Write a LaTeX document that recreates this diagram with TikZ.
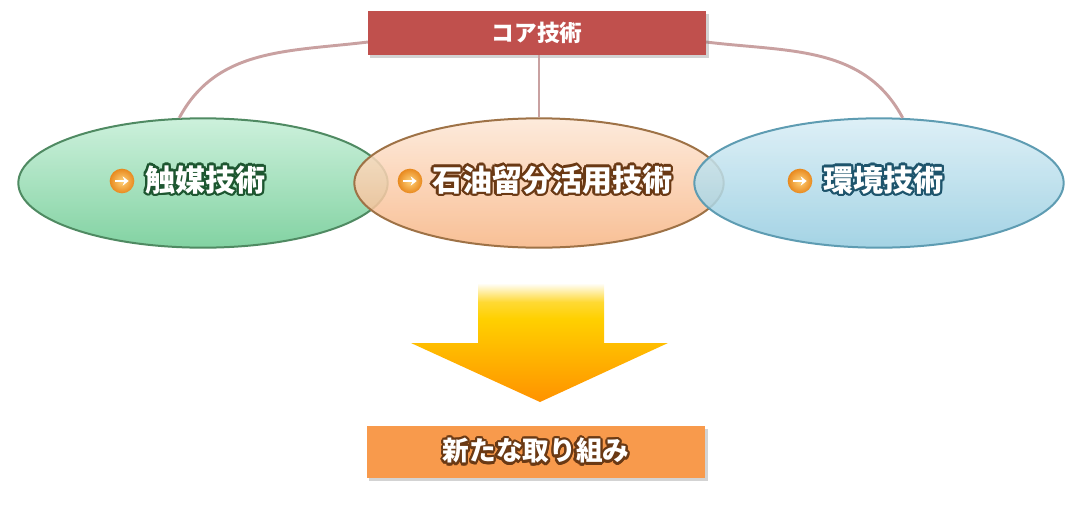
\documentclass[tikz,border=0pt]{standalone}
\usepackage{fontspec}
\usepackage{contour}
\usetikzlibrary{positioning,shapes.geometric,shadows,arrows.meta}
\newfontfamily\jpfont{Noto Sans CJK JP}
\contourlength{1.7pt}
\definecolor{coreRed}{HTML}{C0504D}
\definecolor{linkPink}{HTML}{C9A1A1}
\definecolor{newOrange}{HTML}{F89A4C}
\definecolor{catTop}{HTML}{C4EED6}
\definecolor{catBot}{HTML}{6ECB93}
\definecolor{catEdge}{HTML}{4F8A62}
\definecolor{catText}{HTML}{1D5630}
\definecolor{petTop}{HTML}{FDE7D6}
\definecolor{petBot}{HTML}{F7B584}
\definecolor{petEdge}{HTML}{9E7246}
\definecolor{petText}{HTML}{6A3914}
\definecolor{envTop}{HTML}{D8EDF5}
\definecolor{envBot}{HTML}{95CCE0}
\definecolor{envEdge}{HTML}{5E9CB2}
\definecolor{envText}{HTML}{1E546C}
\definecolor{arrYellow}{HTML}{FFD000}
\definecolor{arrOrange}{HTML}{FF9200}
\definecolor{bulLight}{HTML}{FFD27A}
\definecolor{bulDark}{HTML}{E8891E}
\pgfdeclareverticalshading{arrowfade}{100bp}{color(0bp)=(arrOrange); color(25bp)=(arrOrange);
  color(60bp)=(arrYellow); color(67bp)=(arrYellow!80!white); color(75bp)=(white); color(100bp)=(white)}
\tikzset{
  ell/.style={ellipse, minimum width=277pt, minimum height=97pt, line width=1.5pt, fill opacity=0.86},
  bar/.style={minimum width=254pt, inner sep=0pt, font=\jpfont\bfseries, text=white,
    drop shadow={opacity=0.35, shadow xshift=2pt, shadow yshift=-2pt}},
  bul/.style={circle, minimum size=18.5pt, inner sep=0pt, inner color=bulLight, outer color=bulDark},
  lbl/.style={font=\jpfont\bfseries\fontsize{22.5pt}{24pt}\selectfont, text=white, inner sep=0pt},
  link/.style={linkPink, line width=2.2pt}
}
\newcommand{\bularrow}[1]{\draw[white, line width=2pt, -{Stealth[length=4.5pt,width=7pt]}] ([xshift=-5pt]#1.center) -- ([xshift=5pt]#1.center);}
\begin{document}
\begin{tikzpicture}[x=0.75pt,y=-0.75pt]
    \useasboundingbox (0,0) rectangle (1076,508);
    % ellipses
    \node[ell, draw=catEdge, top color=catTop, bottom color=catBot] (cat) at (203,183) {};
    \node[ell, draw=petEdge, top color=petTop, bottom color=petBot] (pet) at (539,183) {};
    \node[ell, draw=envEdge, top color=envTop, bottom color=envBot] (env) at (879,183) {};
    % core box and links
    \draw[link] (368,42) to[out=187,in=62] (cat.110);
    \draw[link] (706,42) to[out=-7,in=118] (env.70);
    \node[bar, fill=coreRed, minimum height=33pt, font=\jpfont\bfseries\fontsize{17pt}{19pt}\selectfont] (core) at (537,33) {コア技術};
    \draw[link] (core.south -| pet.north) -- (pet.north);
    % labels
    \node[bul] (b1) at (122,181) {};
    \bularrow{b1}
    \node[lbl, right=8pt of b1] (t1) {\contour{catText}{触媒技術}};
    \node[bul] (b2) at (410,181) {};
    \bularrow{b2}
    \node[lbl, right=7pt of b2] (t2) {\contour{petText}{石油留分活用技術}};
    \node[bul] (b3) at (800,181) {};
    \bularrow{b3}
    \node[lbl, right=8pt of b3] (t3) {\contour{envText}{環境技術}};
    % big arrow
    \shade[shading=arrowfade] (478,283)--(604,283)--(604,343)--(668,343)--(540,402)--(411,343)--(478,343)--cycle;
    \node[bar, fill=newOrange, minimum height=39pt, font=\jpfont\bfseries\fontsize{20pt}{22pt}\selectfont] (new) at (536,452) {\contour{petText}{新たな取り組み}};
\end{tikzpicture}
\end{document}
